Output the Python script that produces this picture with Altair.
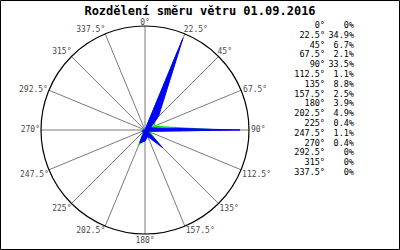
import altair as alt
import pandas as pd

# ---- data ----
directions = [0, 22.5, 45, 67.5, 90, 112.5, 135, 157.5, 180, 202.5, 225, 247.5, 270, 292.5, 315, 337.5]
share_pct = [0, 34.9, 6.7, 2.1, 33.5, 1.1, 8.8, 2.5, 3.9, 4.9, 0.4, 1.1, 0.4, 0, 0, 0]
second_pct = [0, 30, 5, 3.4, 27, 1.6, 7, 2, 3.5, 5.6, 0.6, 1, 0.5, 0, 0, 0]
title_text = "Rozdělení směru větru 01.09.2016"

R = max(share_pct) * 1.05

df = pd.DataFrame({"i": list(range(len(directions))), "dir": directions,
                   "v": share_pct, "v2": second_pct})

W = 208
xs = alt.Scale(domain=[-R, R], nice=False, zero=False)
ys = alt.Scale(domain=[-R, R], nice=False, zero=False)
noax = None

base = alt.Chart(df).transform_calculate(
    px="datum.v * sin(datum.dir * PI / 180)",
    py="datum.v * cos(datum.dir * PI / 180)",
    gx="datum.v2 * sin(datum.dir * PI / 180)",
    gy="datum.v2 * cos(datum.dir * PI / 180)",
    ex=f"{R} * sin(datum.dir * PI / 180)",
    ey=f"{R} * cos(datum.dir * PI / 180)",
    zero="0",
    lab="datum.dir + '°'",
    pct="datum.v == 0 ? '0%' : format(datum.v, '.1f') + '%'",
)

spokes = base.mark_rule(color="#7a7a7a", strokeWidth=1).encode(
    x=alt.X("zero:Q", scale=xs, axis=noax),
    y=alt.Y("zero:Q", scale=ys, axis=noax),
    x2="ex:Q", y2="ey:Q",
)

circle = alt.Chart(pd.DataFrame({"c": [0]})).mark_point(
    shape="circle", filled=False, size=W * W, color="black", strokeWidth=1.2, opacity=1
).encode(x=alt.X("c:Q", scale=xs, axis=noax), y=alt.Y("c:Q", scale=ys, axis=noax))

green = base.mark_line(interpolate="linear-closed", color="#00e000",
                       strokeWidth=1.2).encode(
    x=alt.X("gx:Q", scale=xs, axis=noax),
    y=alt.Y("gy:Q", scale=ys, axis=noax),
    order=alt.Order("i:Q"),
)

poly = base.mark_line(interpolate="linear-closed", color="#0000ff", fill="#0000ff",
                      strokeWidth=1).encode(
    x=alt.X("px:Q", scale=xs, axis=noax),
    y=alt.Y("py:Q", scale=ys, axis=noax),
    order=alt.Order("i:Q"),
)

font = "DejaVu Sans Mono"


def lbl(filt, align, baseline, dx=0, dy=0):
    return base.transform_filter(filt).mark_text(
        align=align, baseline=baseline, dx=dx, dy=dy, font=font, fontSize=8,
        color="#4a4a4a").encode(
        x=alt.X("ex:Q", scale=xs, axis=noax),
        y=alt.Y("ey:Q", scale=ys, axis=noax),
        text="lab:N",
    )


labels = [
    lbl("datum.dir == 0", "center", "bottom", 0, 1),
    lbl("datum.dir == 180", "center", "top", 0, 3),
    lbl("datum.dir > 0 && datum.dir < 60", "left", "bottom", -1, 0),
    lbl("datum.dir > 60 && datum.dir < 100", "left", "middle", 2, 0),
    lbl("datum.dir > 100 && datum.dir < 180", "left", "top", 1, 1),
    lbl("datum.dir > 180 && datum.dir < 260", "right", "top", 0, 1),
    lbl("datum.dir > 260 && datum.dir < 300", "right", "middle", -1, 0),
    lbl("datum.dir > 300", "right", "bottom", 0, 0),
]

row_scale = alt.Scale(range=[-1, 146], padding=0)
tab_dir = base.mark_text(align="right", baseline="middle", font=font, fontSize=8.5,
                         color="black").encode(
    x=alt.value(284),
    y=alt.Y("i:O", scale=row_scale, axis=noax),
    text="lab:N",
)
tab_pct = base.mark_text(align="right", baseline="middle", font=font, fontSize=8.5,
                         color="black").encode(
    x=alt.value(313),
    y=alt.Y("i:O", scale=row_scale, axis=noax),
    text="pct:N",
)
table = alt.layer(tab_dir, tab_pct)

title = alt.Chart(pd.DataFrame({"t": [title_text]})).mark_text(
    font=font, fontSize=12, fontWeight="bold", align="center", baseline="middle",
    color="black").encode(x=alt.value(159), y=alt.value(-15), text="t:N")

frame = alt.Chart(pd.DataFrame({"f": [0]})).mark_rect(
    fill=None, stroke="black", strokeWidth=1).encode(
    x=alt.value(-40.5), x2=alt.value(358.5), y=alt.value(-25.5), y2=alt.value(223.5))

polar = alt.layer(spokes, circle, green, poly, *labels)

chart = alt.layer(polar, table, title, frame).resolve_scale(y="independent").properties(
    width=W, height=W,
    autosize=alt.AutoSizeParams(type="none"),
    padding={"left": 41, "top": 26, "right": 151, "bottom": 16},
    background="white",
).configure_view(stroke=None)

chart.save("out.html", embed_options={"renderer": "svg", "actions": False})
